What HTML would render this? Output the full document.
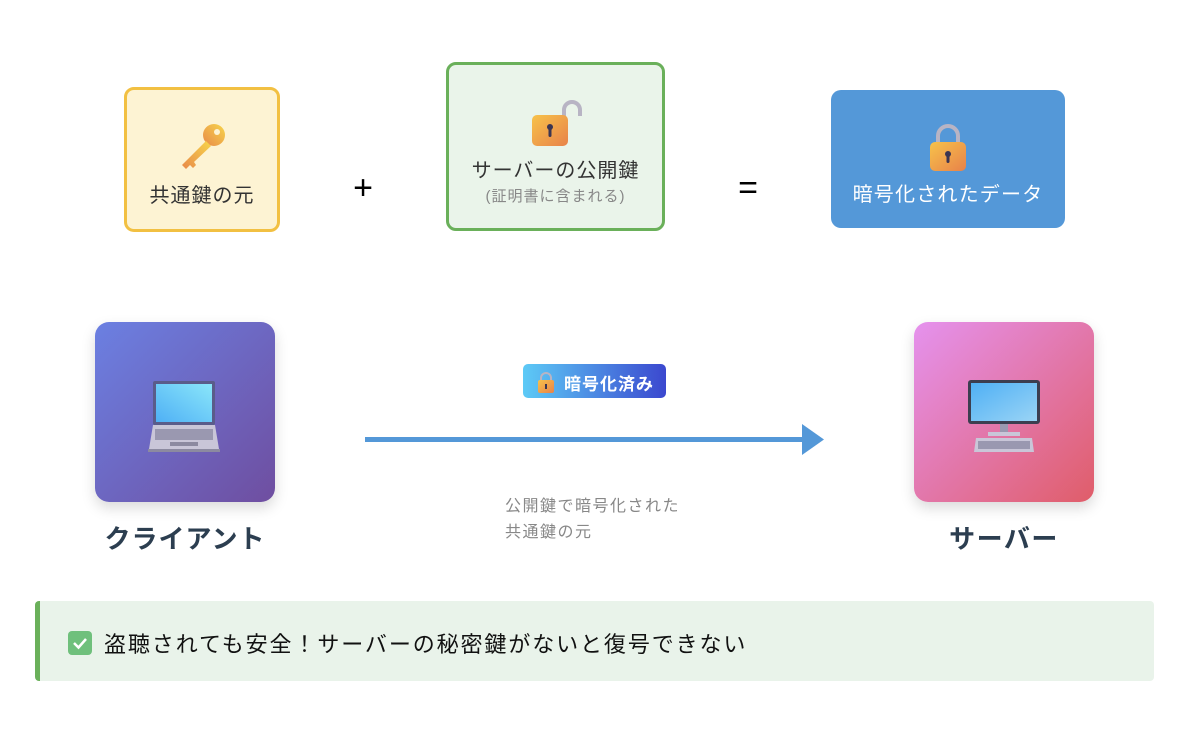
<!DOCTYPE html>
<html><head><meta charset="utf-8"><style>
*{margin:0;padding:0;box-sizing:border-box}
body{width:1191px;height:744px;background:#fff;position:relative;overflow:hidden;font-family:"Liberation Sans","Noto Sans CJK JP",sans-serif}
.a{position:absolute}
.t{position:absolute;white-space:nowrap;text-align:center}
</style></head><body>
<!-- box1 -->
<div class="a" style="left:124px;top:87px;width:156px;height:145px;background:#fdf3d3;border:3px solid #f2c042;border-radius:10px"></div>
<svg class="a" style="left:176px;top:122px" width="52" height="52" viewBox="0 0 52 52"><defs><linearGradient id="kg" x1="1" y1="0" x2="0" y2="1"><stop offset="0" stop-color="#f7d54a"/><stop offset="1" stop-color="#e8894a"/></linearGradient></defs><circle cx="38" cy="13" r="11" fill="url(#kg)"/><circle cx="41" cy="10" r="3" fill="#fdf3d3"/><path d="M30 19 L6 43 L10 47 L14 43 L17 46 L20 43 L18 40 L35 24Z" fill="url(#kg)"/></svg>
<div class="t" style="left:124px;width:156px;top:179px;font-size:20px;letter-spacing:1px;color:#333">共通鍵の元</div>
<div class="t" style="left:340px;width:46px;top:169px;font-size:34px;color:#000">+</div>
<!-- box2 -->
<div class="a" style="left:446px;top:62px;width:219px;height:169px;background:#eaf4ea;border:3px solid #6ab05a;border-radius:10px"></div>
<svg class="a" style="left:528px;top:96px" width="56" height="54" viewBox="0 0 56 54"><defs><linearGradient id="lg" x1="0" y1="0" x2="1" y2="1"><stop offset="0" stop-color="#f7c24a"/><stop offset="1" stop-color="#e8824a"/></linearGradient></defs><path d="M36 22 V14 a8 8 0 0 1 16 0 V20" fill="none" stroke="#b8b4c4" stroke-width="4"/><rect x="4" y="19" width="36" height="31" rx="5" fill="url(#lg)"/><circle cx="22" cy="31" r="3" fill="#3b3552"/><rect x="20.5" y="31" width="3" height="10" rx="1.5" fill="#3b3552"/></svg>
<div class="t" style="left:446px;width:219px;top:154px;font-size:20px;letter-spacing:1px;color:#333">サーバーの公開鍵</div>
<div class="t" style="left:446px;width:219px;top:185px;font-size:15px;letter-spacing:1px;color:#888">(証明書に含まれる)</div>
<div class="t" style="left:725px;width:46px;top:169px;font-size:34px;color:#000">=</div>
<!-- box3 -->
<div class="a" style="left:831px;top:90px;width:234px;height:138px;background:#5498d8;border-radius:10px"></div>
<svg class="a" style="left:928px;top:124px" width="40" height="48" viewBox="0 0 40 48"><path d="M10 20 V12 a10 10 0 0 1 20 0 V20" fill="none" stroke="#b8b4c4" stroke-width="4"/><rect x="2" y="18" width="36" height="29" rx="5" fill="url(#lg)"/><circle cx="20" cy="30" r="3" fill="#3b3552"/><rect x="18.5" y="30" width="3" height="9" rx="1.5" fill="#3b3552"/></svg>
<div class="t" style="left:831px;width:234px;top:178px;font-size:20px;letter-spacing:1.2px;color:#fff">暗号化されたデータ</div>
<!-- client -->
<div class="a" style="left:95px;top:322px;width:180px;height:180px;border-radius:14px;background:linear-gradient(135deg,#6b80e2,#6f4ea0);box-shadow:0 6px 14px rgba(0,0,0,0.15)"></div>
<svg class="a" style="left:148px;top:381px" width="74" height="72" viewBox="0 0 74 72"><defs><linearGradient id="sc" x1="0" y1="1" x2="1" y2="0"><stop offset="0" stop-color="#4fb0f5"/><stop offset="1" stop-color="#8ae6fa"/></linearGradient></defs><rect x="5" y="0" width="62" height="44" rx="2" fill="#5a5c8a"/><rect x="8" y="3" width="56" height="38" fill="url(#sc)"/><path d="M5 44 H67 L71 68 H1Z" fill="#c9c6d8"/><rect x="7" y="48" width="58" height="11" fill="#9a98b0"/><rect x="22" y="61" width="28" height="4" fill="#8c8aa0"/><rect x="0" y="68" width="72" height="3" fill="#8c8aa0"/></svg>
<div class="t" style="left:85px;width:200px;top:519px;font-size:26px;letter-spacing:1px;font-weight:bold;color:#2c3e50">クライアント</div>
<!-- arrow -->
<div class="a" style="left:365px;top:437px;width:442px;height:5px;background:#5498d8"></div>
<svg class="a" style="left:802px;top:424px" width="22" height="31"><path d="M0 0 L22 15.5 L0 31Z" fill="#5498d8"/></svg>
<div class="a" style="left:523px;top:364px;width:143px;height:34px;border-radius:5px;background:linear-gradient(90deg,#5dcaf6,#3b48cf)"></div>
<svg class="a" style="left:537px;top:372px" width="18" height="21" viewBox="0 0 18 21"><path d="M4 9 V6 a5 5 0 0 1 10 0 V9" fill="none" stroke="#b8b4c4" stroke-width="2"/><rect x="1" y="8" width="16" height="13" rx="2" fill="url(#lg)"/><rect x="8" y="12" width="2" height="5" fill="#3b3552"/></svg>
<div class="t" style="left:564px;top:370px;font-size:17px;letter-spacing:1px;font-weight:bold;color:#fff">暗号化済み</div>
<div class="a" style="left:505px;top:494px;font-size:16px;letter-spacing:1.5px;line-height:26px;color:#888">公開鍵で暗号化された<br>共通鍵の元</div>
<!-- server -->
<div class="a" style="left:914px;top:322px;width:180px;height:180px;border-radius:14px;background:linear-gradient(135deg,#e592ee,#e05d69);box-shadow:0 6px 14px rgba(0,0,0,0.15)"></div>
<svg class="a" style="left:966px;top:380px" width="76" height="74" viewBox="0 0 76 74"><defs><linearGradient id="sc2" x1="0" y1="0" x2="1" y2="1"><stop offset="0" stop-color="#4fb0f5"/><stop offset="1" stop-color="#9ad4f5"/></linearGradient></defs><rect x="2" y="0" width="72" height="44" rx="3" fill="#3c3e50"/><rect x="5" y="3" width="66" height="38" fill="url(#sc2)"/><rect x="34" y="44" width="8" height="12" fill="#9a98b0"/><rect x="22" y="52" width="32" height="4" fill="#c9c6d8"/><path d="M10 58 H66 L68 72 H8Z" fill="#c9c6d8"/><rect x="12" y="61" width="52" height="8" fill="#9a98b0"/></svg>
<div class="t" style="left:904px;width:200px;top:519px;font-size:26px;letter-spacing:1.5px;font-weight:bold;color:#2c3e50">サーバー</div>
<!-- bottom -->
<div class="a" style="left:35px;top:601px;width:1119px;height:80px;background:#e9f3ea;border-left:5px solid #6ab05a;border-radius:4px"></div>
<svg class="a" style="left:68px;top:631px" width="24" height="24"><rect x="0" y="0" width="24" height="24" rx="4" fill="#6fc07c"/><path d="M6 12 L10.5 16.5 L18 8" fill="none" stroke="#fff" stroke-width="2.5"/></svg>
<div class="t" style="left:104px;top:627px;font-size:22px;letter-spacing:1.9px;color:#111">盗聴されても安全！サーバーの秘密鍵がないと復号できない</div>
</body></html>
